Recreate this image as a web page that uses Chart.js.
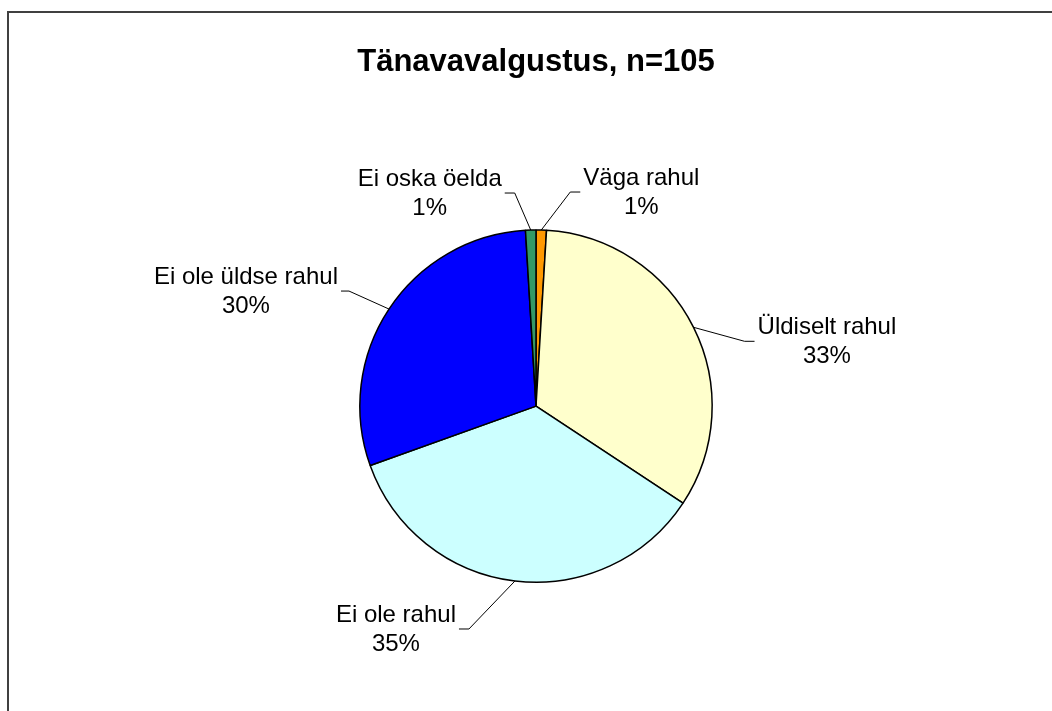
<!DOCTYPE html>
<html>
<head>
<meta charset="utf-8">
<script src="https://cdn.jsdelivr.net/npm/chart.js@4"></script>
<style>
  html, body { margin: 0; padding: 0; background: #fff; }
  #wrap { width: 1052px; height: 711px; }
</style>
</head>
<body>
<div id="wrap"><canvas id="c" width="1052" height="711"></canvas></div>
<script>
// ---- data ----
const titleText = "Tänavavalgustus, n=105";
const categories = ["Väga rahul", "Üldiselt rahul", "Ei ole rahul", "Ei ole üldse rahul", "Ei oska öelda"];
const counts = [1, 35, 37, 31, 1];
const colors = ["#FF9900", "#FFFFCC", "#CCFFFF", "#0000FF", "#339966"];

// label leader offsets (style): elbow offset from slice edge, and horizontal tail length
const leaderStyle = [
  { dx: 29, dy: -38, tail: 10 },
  { dx: 51, dy: 14, tail: 10 },
  { dx: -46, dy: 48, tail: -10 },
  { dx: -40, dy: -18, tail: -8 },
  { dx: -16, dy: -37, tail: -10 }
];

const LABEL_FONT = '24px "Liberation Sans", Arial, sans-serif';
const LINE_GAP = 29;
const LINE_SHIFT = 1;

const framePlugin = {
  id: 'frame',
  beforeDraw(chart) {
    const ctx = chart.ctx;
    ctx.save();
    ctx.fillStyle = '#fff';
    ctx.fillRect(0, 0, chart.width, chart.height);
    ctx.strokeStyle = '#404040';
    ctx.lineWidth = 2;
    ctx.beginPath();
    ctx.moveTo(8, chart.height);
    ctx.lineTo(8, 12);
    ctx.lineTo(chart.width, 12);
    ctx.stroke();
    ctx.restore();
  }
};

const labelPlugin = {
  id: 'pieLabels',
  afterDatasetsDraw(chart) {
    const ctx = chart.ctx;
    const meta = chart.getDatasetMeta(0);
    const total = counts.reduce((a, b) => a + b, 0);
    ctx.save();
    ctx.font = LABEL_FONT;
    ctx.fillStyle = '#000';
    ctx.strokeStyle = '#000';
    ctx.lineWidth = 1;
    ctx.textBaseline = 'middle';
    ctx.textAlign = 'center';
    meta.data.forEach((arc, i) => {
      const p = arc.getProps(['x', 'y', 'startAngle', 'endAngle', 'outerRadius'], true);
      const mid = (p.startAngle + p.endAngle) / 2;
      const sx = p.x + Math.cos(mid) * p.outerRadius;
      const sy = p.y + Math.sin(mid) * p.outerRadius;
      const st = leaderStyle[i];
      const ex = sx + st.dx, ey = sy + st.dy;
      const tx = ex + st.tail;
      ctx.beginPath();
      ctx.moveTo(sx, sy);
      ctx.lineTo(ex, ey);
      ctx.lineTo(tx, ey);
      ctx.stroke();
      const pct = Math.round(counts[i] / total * 100) + '%';
      const l1 = categories[i];
      const w = Math.max(ctx.measureText(l1).width, ctx.measureText(pct).width);
      const cx = st.tail > 0 ? tx + 3 + w / 2 : tx - 3 - w / 2;
      ctx.fillText(l1, cx, ey - LINE_GAP / 2 + LINE_SHIFT);
      ctx.fillText(pct, cx, ey + LINE_GAP / 2 + LINE_SHIFT);
    });
    ctx.restore();
  }
};

new Chart(document.getElementById('c'), {
  type: 'pie',
  data: {
    labels: categories,
    datasets: [{
      data: counts,
      backgroundColor: colors,
      borderColor: '#000',
      borderWidth: 1.5
    }]
  },
  options: {
    responsive: false,
    animation: false,
    layout: { padding: { top: 0, bottom: 128, left: 300, right: 280 } },
    plugins: {
      legend: { display: false },
      tooltip: { enabled: false },
      title: {
        display: true,
        text: titleText,
        color: '#000',
        font: { family: '"Liberation Sans", Arial, sans-serif', size: 31, weight: 'bold', lineHeight: 1.2 },
        padding: { top: 44, bottom: 148 }
      }
    }
  },
  plugins: [framePlugin, labelPlugin]
});
</script>
</body>
</html>
